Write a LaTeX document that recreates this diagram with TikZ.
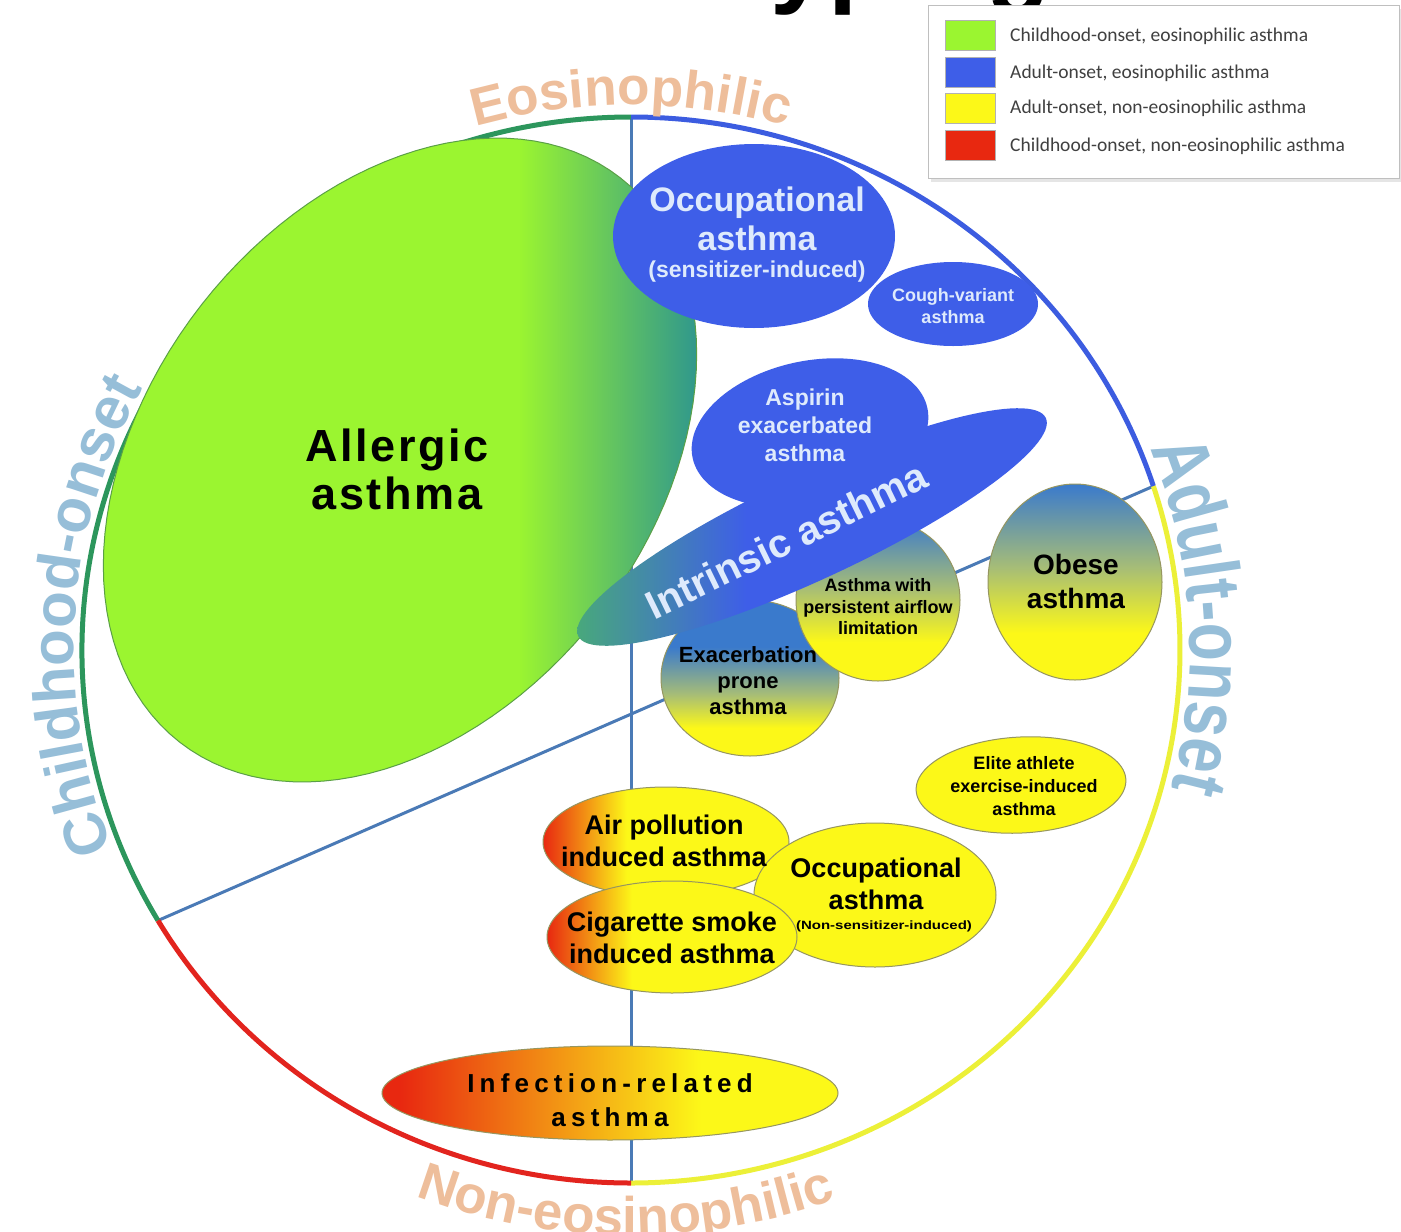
\documentclass[tikz,border=0pt]{standalone}
\usepackage{fontspec}
\setmainfont{Liberation Sans}
\newfontfamily\legendfont{Carlito}
\newfontfamily\narrowsans[FakeStretch=0.8]{Liberation Sans}
\usetikzlibrary{decorations.text}

\definecolor{cLime}{RGB}{155,245,48}
\definecolor{cTeal}{RGB}{48,152,140}
\definecolor{cIntTeal}{RGB}{72,168,124}
\definecolor{cBlue}{RGB}{62,94,232}
\definecolor{cSky}{RGB}{58,122,204}
\definecolor{cMid}{RGB}{165,188,120}
\definecolor{cYellow}{RGB}{252,248,24}
\definecolor{cRed}{RGB}{232,40,16}
\definecolor{cArcGreen}{RGB}{44,150,92}
\definecolor{cArcBlue}{RGB}{60,92,224}
\definecolor{cArcRed}{RGB}{226,36,30}
\definecolor{cArcYellow}{RGB}{236,240,56}
\definecolor{cDivider}{RGB}{74,122,182}
\definecolor{cPeach}{RGB}{238,190,155}
\definecolor{cSteel}{RGB}{150,190,216}
\definecolor{cPale}{RGB}{222,234,252}
\definecolor{cOutline}{RGB}{150,150,96}
\definecolor{cGreenEdge}{RGB}{90,160,70}
\definecolor{cLegendText}{RGB}{64,64,64}

% colour ramps
\pgfdeclarehorizontalshading{allergicshade}{100bp}{color(0bp)=(cLime); color(60bp)=(cLime); color(75bp)=(cTeal); color(100bp)=(cTeal)}
\pgfdeclarehorizontalshading{intrinsicshade}{100bp}{color(0bp)=(cIntTeal); color(25bp)=(cIntTeal); color(43bp)=(cBlue); color(100bp)=(cBlue)}
\pgfdeclareverticalshading{skyyellow}{100bp}{color(0bp)=(cYellow); color(37bp)=(cYellow); color(54bp)=(cMid); color(75bp)=(cSky); color(100bp)=(cSky)}
\pgfdeclareverticalshading{exashade}{100bp}{color(0bp)=(cYellow); color(34bp)=(cYellow); color(45bp)=(cMid); color(60bp)=(cSky); color(100bp)=(cSky)}
\pgfdeclarehorizontalshading{redyellow}{100bp}{color(0bp)=(cRed); color(25bp)=(cRed); color(42bp)=(cYellow); color(100bp)=(cYellow)}
\pgfdeclarehorizontalshading{infectshade}{100bp}{color(0bp)=(cRed); color(27bp)=(cRed); color(60bp)=(cYellow); color(100bp)=(cYellow)}

\newcommand\fsz[2]{\fontsize{#1}{#2}\selectfont}
% rotated ellipse: style, cx, cy, a, b, rotation
\newcommand\ovalpath[6]{%
  \path[#1] plot[domain=0:360, samples=121]
    ({#2+#4*cos(\x)*cos(#6)-#5*sin(\x)*sin(#6)},
     {#3-#4*cos(\x)*sin(#6)-#5*sin(\x)*cos(#6)}) -- cycle;}

\tikzset{
  rim/.style={line width=5pt},
  divider/.style={draw=cDivider, line width=3pt},
  lbl/.style={inner sep=0pt, align=center, font=\bfseries},
  swatch/.style={minimum width=50pt, minimum height=30pt, inner sep=0pt, draw=black!30},
  legendtext/.style={anchor=west, inner sep=0pt, font=\legendfont\fsz{19.5}{22}, text=cLegendText},
}

\begin{document}
\begin{tikzpicture}[x=1pt,y=-1pt]
\useasboundingbox (0,0) rectangle (1401,1232);
\clip (0,0) rectangle (1401,1232);
\fill[white] (0,0) rectangle (1401,1232);

% heading, mostly above the page edge
\node[anchor=base west, inner sep=0pt, font=\fsz{105}{105}\bfseries] (title) at (735,-7) {typing};

% key points of the outer ring
\coordinate (top) at (631,117);
\coordinate (bottom) at (631,1183);
\coordinate (wsplit) at ({631+549*cos(149.5)},{650+533*sin(149.5)});
\coordinate (esplit) at ({631+549*cos(-17.9)},{650+533*sin(-17.9)});

% quadrant dividers
\draw[divider] (top) -- (bottom);
\draw[divider] (wsplit) -- (esplit);

% outer ring
\draw[rim, cArcGreen] (wsplit) arc[start angle=149.5, end angle=270, x radius=549, y radius=533];
\draw[rim, cArcBlue] (top) arc[start angle=270, end angle=342.1, x radius=549, y radius=533];
\draw[rim, cArcYellow] (esplit) arc[start angle=-17.9, end angle=90, x radius=549, y radius=533];
\draw[rim, cArcRed] (bottom) arc[start angle=90, end angle=149.5, x radius=549, y radius=533];

% phenotype ovals
\ovalpath{shade, shading=allergicshade, draw=cGreenEdge, line width=1pt}{400}{460}{358}{252}{52}
\ovalpath{fill=cBlue}{754}{236}{141}{92}{0}
\ovalpath{fill=cBlue}{953}{304}{85}{42}{0}
\ovalpath{fill=cBlue}{810}{433}{120}{72}{12}
\ovalpath{shade, shading=exashade, draw=cOutline, line width=1pt}{750}{678}{89}{78}{0}
\ovalpath{shade, shading=skyyellow, draw=cOutline, line width=1pt}{878}{600}{82}{81}{0}
\ovalpath{shade, shading=intrinsicshade}{812}{527}{258}{52}{25}
\ovalpath{shade, shading=skyyellow, draw=cOutline, line width=1pt}{1075}{582}{87}{98}{0}
\ovalpath{fill=cYellow, draw=cOutline, line width=1pt}{1021}{785}{105}{48}{3}
\ovalpath{shade, shading=redyellow, draw=cOutline, line width=1pt}{666}{842}{123}{55}{0}
\ovalpath{fill=cYellow, draw=cOutline, line width=1pt}{875}{895}{121}{72}{0}
\ovalpath{shade, shading=redyellow, draw=cOutline, line width=1pt}{672}{937}{125}{56}{0}
\ovalpath{shade, shading=infectshade, draw=cOutline, line width=1pt}{610}{1093}{228}{47}{0}

% labels
\node[lbl, font=\fsz{45}{48}\bfseries\addfontfeature{LetterSpace=6}] (allergic) at (397,469) {Allergic\\asthma};
\node[lbl, text=cPale, font=\fsz{34}{39}\bfseries] (occsens) at (757,219) {Occupational\\asthma};
\node[lbl, text=cPale, font=\fsz{23}{26}\bfseries] (occsensb) at (757,272) {(sensitizer-induced)};
\node[lbl, text=cPale, font=\fsz{18}{22}\bfseries] (cough) at (953,306) {Cough-variant\\asthma};
\node[lbl, text=cPale, font=\fsz{23}{28}\bfseries] (aspirin) at (805,425) {Aspirin\\exacerbated\\asthma};
\node[lbl, text=cPale, font=\fsz{40}{44}\bfseries, rotate=26] (intrinsic) at (786,540) {Intrinsic asthma};
\node[lbl, font=\fsz{22}{26}\bfseries] (exacerb) at (748,681) {Exacerbation\\prone\\asthma};
\node[lbl, font=\fsz{18}{21.5}\bfseries] (airflow) at (878,607) {Asthma with\\persistent airflow\\limitation};
\node[lbl, font=\fsz{28}{34}\bfseries] (obese) at (1076,581) {Obese\\asthma};
\node[lbl, font=\fsz{18}{23}\bfseries] (elite) at (1024,786) {Elite athlete\\exercise-induced\\asthma};
\node[lbl, font=\fsz{27}{32}\bfseries] (airpol) at (664,841) {Air pollution\\induced asthma};
\node[lbl, font=\fsz{27}{32}\bfseries] (occnon) at (876,884) {Occupational\\asthma};
\node[lbl, font=\fsz{12}{14}\bfseries] (occnonb) at (884,926) {\scalebox{1.25}[1]{(Non-sensitizer-induced)}};
\node[lbl, font=\fsz{27}{32}\bfseries] (cigar) at (672,938) {Cigarette smoke\\induced asthma};
\node[lbl, font=\fsz{26}{34}\bfseries\addfontfeature{LetterSpace=20}] (infect) at (610,1100) {Infection-related\\asthma};

% ring captions
\path[decorate, decoration={text along path, text align=center,
  text={|\fsz{53}{53}\bfseries\color{cPeach}|Eosinophilic}}]
  ({631+561*cos(230)},{650+545*sin(230)}) arc[start angle=230, end angle=310, x radius=561, y radius=545];
\path[decorate, decoration={text along path, text align=center,
  text={|\fsz{60}{60}\bfseries\color{cSteel}|Childhood-onset}}]
  ({631+557*cos(143.7)},{650+541*sin(143.7)}) arc[start angle=143.7, end angle=223.7, x radius=557, y radius=541];
\path[decorate, decoration={text along path, text align=center,
  text={|\narrowsans\fsz{78}{78}\bfseries\color{cSteel}|Adult-onset}}]
  ({631+559*cos(-43.5)},{650+543*sin(-43.5)}) arc[start angle=-43.5, end angle=36.5, x radius=559, y radius=543];
\path[decorate, decoration={text along path, text align=center,
  text={|\fsz{53}{53}\bfseries\color{cPeach}|Non-eosinophilic}}]
  ({631+601*cos(130.5)},{650+585*sin(130.5)}) arc[start angle=130.5, end angle=50.5, x radius=601, y radius=585];

% legend
\fill[black!10] (931,9) rectangle (1401,182);
\draw[draw=black!25, fill=white] (928,5) rectangle (1399,178);
\node[swatch, fill=cLime] (sw1) at (970,35) {};
\node[swatch, fill=cBlue] (sw2) at (970,72) {};
\node[swatch, fill=cYellow] (sw3) at (970,108) {};
\node[swatch, fill=cRed] (sw4) at (970,145) {};
\node[legendtext] (lg1) at (1010,36) {Childhood-onset, eosinophilic asthma};
\node[legendtext] (lg2) at (1010,73) {Adult-onset, eosinophilic asthma};
\node[legendtext] (lg3) at (1010,108) {Adult-onset, non-eosinophilic asthma};
\node[legendtext] (lg4) at (1010,146) {Childhood-onset, non-eosinophilic asthma};
\end{tikzpicture}
\end{document}
